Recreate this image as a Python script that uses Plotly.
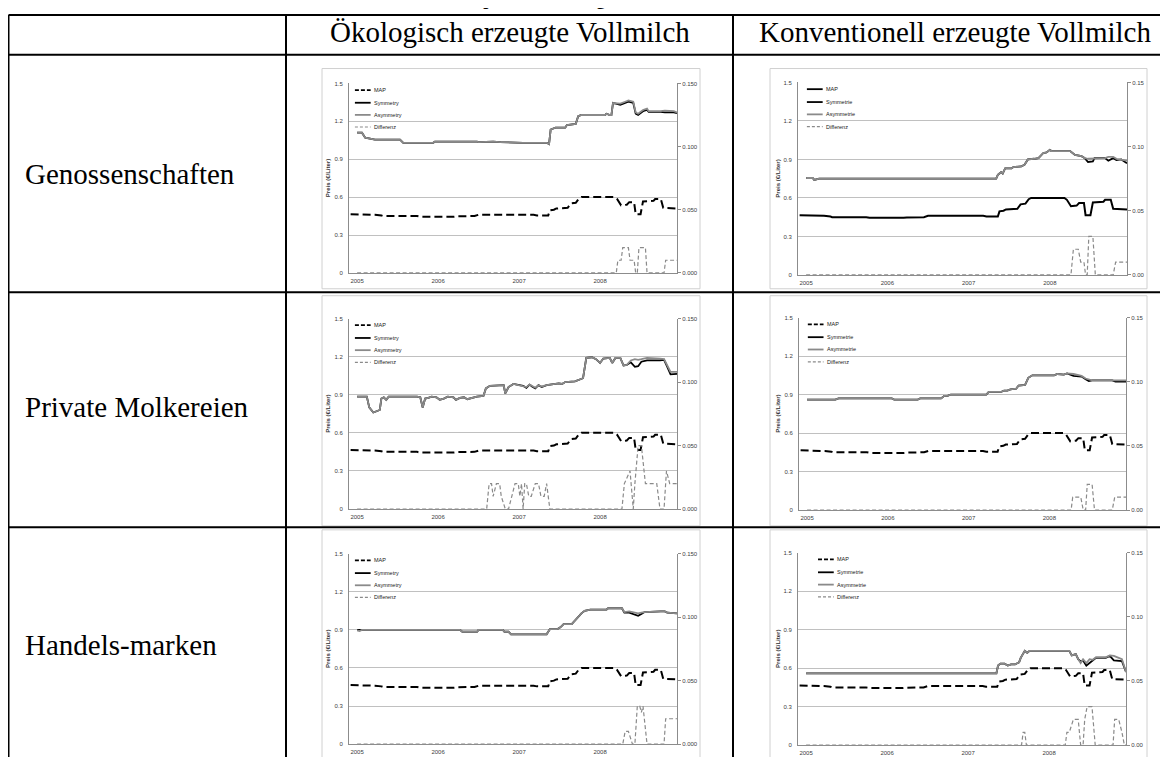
import plotly.graph_objects as go

W, H = 1168, 757
OFF = 8  # the page body margin shifts the figure by 8 px

# ---------------- text / tick data ----------------
TITLE = "Tabelle 5: Impulsantwortfolgen"
ROW_LABELS = ["Genossenschaften", "Private Molkereien", "Handels-marken"]
COL_LABELS = ["Ökologisch erzeugte Vollmilch", "Konventionell erzeugte Vollmilch"]
LEGEND_OEKO = ["MAP", "Symmetry", "Asymmetry", "Differenz"]
LEGEND_KONV = ["MAP", "Symmetrie", "Asymmetrie", "Differenz"]
Y_TITLE = "Preis (€/Liter)"

YEAR_TICKS = [2005, 2006, 2007, 2008]
YEAR_LABELS = ["2005", "2006", "2007", "2008"]
LEFT_TICKS = [0, 0.3, 0.6, 0.9, 1.2, 1.5]
LEFT_LABELS = ["0", "0.3", "0.6", "0.9", "1.2", "1.5"]
RIGHT_TICKS = [0, 0.05, 0.10, 0.15]
RIGHT_LABELS_OEKO = ["0.000", "0.050", "0.100", "0.150"]
RIGHT_LABELS_KONV = ["0.00", "0.05", "0.10", "0.15"]

# ---------------- MAP (same in all panels) ----------------
MAP_T = [2004.92, 2005.18, 2005.22, 2005.30, 2005.32, 2005.74, 2005.78, 2006.20, 2006.24, 2006.45,
         2006.50, 2007.18, 2007.22, 2007.36, 2007.38, 2007.43, 2007.46, 2007.60, 2007.64, 2007.70,
         2007.74, 2007.77, 2008.18, 2008.21, 2008.26, 2008.33, 2008.36, 2008.42, 2008.44, 2008.50,
         2008.53, 2008.66, 2008.68, 2008.75, 2008.78, 2008.95]
MAP_V = [0.465, 0.465, 0.46, 0.455, 0.45, 0.45, 0.445, 0.445, 0.448, 0.45,
         0.46, 0.46, 0.455, 0.455, 0.495, 0.50, 0.51, 0.515, 0.55, 0.555,
         0.59, 0.60, 0.60, 0.585, 0.535, 0.54, 0.56, 0.56, 0.465, 0.465,
         0.565, 0.57, 0.585, 0.585, 0.515, 0.51]

# ---------------- Genossenschaften / ökologisch ----------------
T11 = [2005.00, 2005.06, 2005.10, 2005.16, 2005.22, 2005.53, 2005.57, 2005.94, 2005.96, 2006.48,
       2006.50, 2006.68, 2006.77, 2007.05, 2007.34, 2007.37, 2007.39, 2007.45, 2007.57, 2007.59,
       2007.70, 2007.73, 2007.77, 2008.06, 2008.08, 2008.12, 2008.14, 2008.16, 2008.25, 2008.31,
       2008.35, 2008.41, 2008.44, 2008.47, 2008.53, 2008.58, 2008.60, 2008.75, 2008.80, 2008.91,
       2008.95]
ASYM11 = [1.11, 1.11, 1.07, 1.06, 1.055, 1.055, 1.03, 1.03, 1.04, 1.04,
          1.035, 1.04, 1.035, 1.03, 1.03, 1.02, 1.135, 1.15, 1.15, 1.17,
          1.18, 1.24, 1.25, 1.25, 1.26, 1.25, 1.25, 1.345, 1.34, 1.355,
          1.365, 1.355, 1.27, 1.26, 1.29, 1.30, 1.28, 1.28, 1.285, 1.28,
          1.27]
SYM11 = [1.11, 1.11, 1.07, 1.06, 1.055, 1.055, 1.03, 1.03, 1.04, 1.04,
         1.035, 1.04, 1.035, 1.03, 1.03, 1.02, 1.135, 1.15, 1.15, 1.17,
         1.18, 1.24, 1.25, 1.25, 1.26, 1.25, 1.25, 1.345, 1.33, 1.345,
         1.355, 1.345, 1.26, 1.25, 1.28, 1.29, 1.275, 1.275, 1.27, 1.27,
         1.265]
DT11 = [2005.00, 2008.20, 2008.22, 2008.26, 2008.28, 2008.35, 2008.37, 2008.42, 2008.44, 2008.46,
        2008.48, 2008.56, 2008.58, 2008.79, 2008.81, 2008.95]
DIFF11 = [0, 0, 0.01, 0.01, 0.02, 0.02, 0.01, 0.01, 0, 0,
          0.02, 0.02, 0, 0, 0.01, 0.01]

# ---------------- Genossenschaften / konventionell ----------------
T12 = [2005.00, 2005.08, 2005.10, 2005.14, 2005.16, 2007.34, 2007.36, 2007.40, 2007.42, 2007.45,
       2007.53, 2007.55, 2007.65, 2007.69, 2007.73, 2007.81, 2007.86, 2007.92, 2007.96, 2008.00,
       2008.02, 2008.25, 2008.27, 2008.31, 2008.39, 2008.43, 2008.47, 2008.53, 2008.55, 2008.68,
       2008.72, 2008.78, 2008.82, 2008.88, 2008.95]
ASYM12 = [0.755, 0.755, 0.74, 0.745, 0.75, 0.75, 0.78, 0.80, 0.79, 0.83,
          0.83, 0.84, 0.845, 0.86, 0.90, 0.905, 0.91, 0.95, 0.955, 0.975,
          0.965, 0.965, 0.955, 0.935, 0.925, 0.91, 0.905, 0.905, 0.91, 0.91,
          0.92, 0.92, 0.905, 0.90, 0.89]
SYM12 = [0.755, 0.755, 0.74, 0.745, 0.75, 0.75, 0.78, 0.80, 0.79, 0.83,
         0.83, 0.84, 0.845, 0.86, 0.90, 0.905, 0.91, 0.95, 0.955, 0.975,
         0.965, 0.965, 0.955, 0.935, 0.925, 0.91, 0.88, 0.885, 0.91, 0.91,
         0.89, 0.91, 0.895, 0.90, 0.87]
DT12 = [2005.00, 2008.26, 2008.29, 2008.35, 2008.38, 2008.42, 2008.44, 2008.46, 2008.48, 2008.53,
        2008.56, 2008.78, 2008.81, 2008.95]
DIFF12 = [0, 0, 0.02, 0.02, 0.01, 0.01, 0, 0, 0.03, 0.03,
          0, 0, 0.01, 0.01]

# ---------------- Private Molkereien / ökologisch ----------------
T21 = [2005.00, 2005.12, 2005.15, 2005.20, 2005.24, 2005.28, 2005.30, 2005.33, 2005.36, 2005.39,
       2005.74, 2005.78, 2005.81, 2005.84, 2005.88, 2005.92, 2005.98, 2006.02, 2006.07, 2006.12,
       2006.19, 2006.22, 2006.27, 2006.32, 2006.36, 2006.42, 2006.48, 2006.56, 2006.59, 2006.64,
       2006.81, 2006.83, 2006.87, 2006.93, 2006.99, 2007.05, 2007.09, 2007.13, 2007.16, 2007.20,
       2007.24, 2007.28, 2007.34, 2007.40, 2007.49, 2007.53, 2007.57, 2007.69, 2007.76, 2007.79,
       2007.83, 2007.90, 2007.95, 2008.00, 2008.04, 2008.12, 2008.15, 2008.19, 2008.25, 2008.29,
       2008.33, 2008.38, 2008.43, 2008.47, 2008.51, 2008.58, 2008.74, 2008.79, 2008.83, 2008.87,
       2008.95]
ASYM21 = [0.885, 0.885, 0.80, 0.76, 0.77, 0.78, 0.87, 0.88, 0.86, 0.885,
          0.885, 0.88, 0.80, 0.87, 0.875, 0.885, 0.88, 0.86, 0.87, 0.885,
          0.88, 0.86, 0.875, 0.88, 0.865, 0.875, 0.885, 0.89, 0.95, 0.97,
          0.975, 0.91, 0.96, 0.985, 0.975, 0.97, 0.96, 0.98, 0.97, 0.955,
          0.975, 0.965, 0.975, 0.98, 0.99, 0.985, 1.00, 1.005, 1.025, 1.03,
          1.19, 1.195, 1.18, 1.15, 1.185, 1.19, 1.15, 1.19, 1.19, 1.13,
          1.135, 1.17, 1.18, 1.175, 1.18, 1.19, 1.185, 1.18, 1.13, 1.08,
          1.08]
SYM21 = [0.885, 0.885, 0.80, 0.76, 0.77, 0.78, 0.87, 0.88, 0.86, 0.885,
         0.885, 0.88, 0.80, 0.87, 0.875, 0.885, 0.88, 0.86, 0.87, 0.885,
         0.88, 0.86, 0.875, 0.88, 0.865, 0.875, 0.885, 0.89, 0.95, 0.97,
         0.975, 0.91, 0.96, 0.985, 0.975, 0.97, 0.955, 0.98, 0.965, 0.95,
         0.975, 0.96, 0.975, 0.98, 0.99, 0.985, 1.00, 1.005, 1.025, 1.03,
         1.19, 1.195, 1.18, 1.15, 1.185, 1.19, 1.15, 1.19, 1.19, 1.13,
         1.135, 1.155, 1.12, 1.125, 1.16, 1.17, 1.17, 1.175, 1.12, 1.06,
         1.065]
DT21 = [2005.00, 2006.60, 2006.63, 2006.66, 2006.68, 2006.72, 2006.76, 2006.78, 2006.83, 2006.87,
        2006.91, 2006.95, 2006.99, 2007.01, 2007.03, 2007.05, 2007.07, 2007.09, 2007.12, 2007.15,
        2007.20, 2007.24, 2007.27, 2007.31, 2007.34, 2007.38, 2008.27, 2008.30, 2008.37, 2008.41,
        2008.43, 2008.47, 2008.51, 2008.56, 2008.70, 2008.74, 2008.79, 2008.82, 2008.86, 2008.95]
DIFF21 = [0, 0, 0.02, 0.02, 0.01, 0.02, 0.02, 0.01, 0, 0,
          0.01, 0.02, 0.02, 0.01, 0.02, 0, 0.02, 0.02, 0.01, 0.01,
          0.02, 0.02, 0.01, 0.01, 0.02, 0, 0, 0.02, 0.03, 0,
          0.02, 0.05, 0.05, 0.02, 0.02, 0, 0, 0.03, 0.02, 0.02]

# ---------------- Private Molkereien / konventionell ----------------
T22 = [2005.00, 2005.35, 2005.39, 2006.05, 2006.08, 2006.37, 2006.40, 2006.66, 2006.70, 2006.74,
       2006.78, 2007.22, 2007.25, 2007.40, 2007.44, 2007.48, 2007.52, 2007.59, 2007.62, 2007.70,
       2007.74, 2007.79, 2008.06, 2008.10, 2008.18, 2008.22, 2008.30, 2008.35, 2008.40, 2008.45,
       2008.49, 2008.53, 2008.78, 2008.82, 2008.95]
ASYM22 = [0.86, 0.86, 0.87, 0.87, 0.86, 0.86, 0.87, 0.87, 0.89, 0.89,
          0.90, 0.90, 0.92, 0.92, 0.93, 0.93, 0.94, 0.945, 0.97, 0.975,
          1.03, 1.05, 1.05, 1.06, 1.055, 1.065, 1.06, 1.05, 1.045, 1.025,
          1.02, 1.01, 1.01, 1.01, 1.01]
SYM22 = [0.86, 0.86, 0.87, 0.87, 0.86, 0.86, 0.87, 0.87, 0.89, 0.89,
         0.90, 0.90, 0.92, 0.92, 0.93, 0.93, 0.94, 0.945, 0.97, 0.975,
         1.03, 1.05, 1.05, 1.06, 1.055, 1.065, 1.045, 1.04, 1.04, 1.02,
         1.005, 1.01, 1.01, 1.0, 1.0]
DT22 = [2005.00, 2008.27, 2008.29, 2008.39, 2008.42, 2008.45, 2008.47, 2008.53, 2008.56, 2008.78,
        2008.81, 2008.95]
DIFF22 = [0, 0, 0.01, 0.01, 0, 0, 0.02, 0.02, 0, 0,
          0.01, 0.01]

# ---------------- Handelsmarken / ökologisch ----------------
T31 = [2005.00, 2005.03, 2005.06, 2006.27, 2006.30, 2006.48, 2006.50, 2006.80, 2006.82, 2006.87,
       2006.90, 2007.34, 2007.38, 2007.47, 2007.51, 2007.55, 2007.65, 2007.72, 2007.77, 2007.81,
       2007.88, 2008.08, 2008.10, 2008.27, 2008.30, 2008.36, 2008.42, 2008.47, 2008.51, 2008.55,
       2008.75, 2008.80, 2008.83, 2008.95]
ASYM31 = [0.895, 0.89, 0.90, 0.90, 0.885, 0.885, 0.90, 0.90, 0.885, 0.885,
          0.865, 0.865, 0.905, 0.905, 0.92, 0.945, 0.945, 1.00, 1.03, 1.05,
          1.06, 1.06, 1.07, 1.07, 1.04, 1.045, 1.035, 1.03, 1.035, 1.04,
          1.045, 1.045, 1.035, 1.03]
SYM31 = [0.90, 0.90, 0.90, 0.90, 0.885, 0.885, 0.90, 0.90, 0.885, 0.885,
         0.865, 0.865, 0.905, 0.905, 0.92, 0.945, 0.945, 1.00, 1.03, 1.05,
         1.06, 1.06, 1.07, 1.07, 1.035, 1.035, 1.02, 1.01, 1.025, 1.04,
         1.045, 1.045, 1.035, 1.03]
DT31 = [2005.00, 2008.28, 2008.31, 2008.35, 2008.40, 2008.43, 2008.46, 2008.49, 2008.51, 2008.53,
        2008.58, 2008.79, 2008.81, 2008.95]
DIFF31 = [0, 0, 0.01, 0.01, 0, 0, 0.03, 0.03, 0.025, 0.03,
          0, 0, 0.02, 0.02]

# ---------------- Handelsmarken / konventionell ----------------
T32 = [2005.00, 2007.35, 2007.37, 2007.40, 2007.45, 2007.49, 2007.53, 2007.58, 2007.63, 2007.65,
       2007.70, 2007.73, 2007.76, 2008.25, 2008.28, 2008.33, 2008.36, 2008.39, 2008.42, 2008.46,
       2008.50, 2008.54, 2008.58, 2008.70, 2008.75, 2008.80, 2008.86, 2008.90, 2008.95]
ASYM32 = [0.56, 0.56, 0.62, 0.635, 0.635, 0.62, 0.63, 0.63, 0.645, 0.68,
          0.735, 0.72, 0.735, 0.735, 0.70, 0.71, 0.67, 0.64, 0.67, 0.64,
          0.67, 0.665, 0.685, 0.685, 0.70, 0.695, 0.68, 0.67, 0.57]
SYM32 = [0.56, 0.56, 0.62, 0.635, 0.635, 0.62, 0.63, 0.63, 0.645, 0.68,
         0.735, 0.72, 0.735, 0.735, 0.70, 0.71, 0.67, 0.65, 0.66, 0.62,
         0.64, 0.66, 0.68, 0.68, 0.695, 0.66, 0.66, 0.655, 0.57]
DT32 = [2005.00, 2007.66, 2007.68, 2007.70, 2007.72, 2008.20, 2008.22, 2008.25, 2008.30, 2008.36,
        2008.39, 2008.42, 2008.44, 2008.47, 2008.53, 2008.57, 2008.79, 2008.81, 2008.86, 2008.90,
        2008.93, 2008.95]
DIFF32 = [0, 0, 0.01, 0.01, 0, 0, 0.01, 0.01, 0.02, 0.02,
          0, 0, 0.02, 0.03, 0.03, 0, 0, 0.02, 0.02, 0.01,
          0, 0]


# ---------------- layout helpers (page pixels -> paper fractions) ----------------
def fx(px):
    return (px - OFF) / W


def fy(py):
    return 1 - (py - OFF) / H


PANELS = [
    dict(t=T11, sym=SYM11, asym=ASYM11, dt=DT11, diff=DIFF11,
         box=(349, 81, 677, 272), frame=(322, 66, 700, 288), lx=0.018, col=0, map_solid=False),
    dict(t=T12, sym=SYM12, asym=ASYM12, dt=DT12, diff=DIFF12,
         box=(798, 80, 1127, 274), frame=(770, 66, 1147, 288), lx=0.027, col=1, map_solid=True),
    dict(t=T21, sym=SYM21, asym=ASYM21, dt=DT21, diff=DIFF21,
         box=(349, 318, 677, 510), frame=(322, 295, 700, 527), lx=0.018, col=0, map_solid=False),
    dict(t=T22, sym=SYM22, asym=ASYM22, dt=DT22, diff=DIFF22,
         box=(799, 317, 1126, 511), frame=(770, 295, 1147, 527), lx=0.027, col=1, map_solid=False),
    dict(t=T31, sym=SYM31, asym=ASYM31, dt=DT31, diff=DIFF31,
         box=(349, 555, 677, 747), frame=(322, 531, 700, 775), lx=0.018, col=0, map_solid=False),
    dict(t=T32, sym=SYM32, asym=ASYM32, dt=DT32, diff=DIFF32,
         box=(798, 554, 1126, 748), frame=(770, 531, 1147, 775), lx=0.061, col=1, map_solid=False),
]

BLACK = "#000000"
GRAY = "#8a8a8a"
AXC = "#8c8c8c"
GRID = "#c0c0c0"
TICKFONT = dict(family="Liberation Sans", size=6, color="#404040")

MAP_DASH = dict(color=BLACK, width=2, dash="8px,4px")
MAP_SOLID = dict(color=BLACK, width=2)
SYM_LINE = dict(color=BLACK, width=1.8)
ASYM_LINE = dict(color=GRAY, width=1.8)
DIFF_LINE = dict(color=GRAY, width=1.2, dash="4px,2.5px")


def nm(n):
    return "" if n == 1 else str(n)


fig = go.Figure()
layout = dict(
    width=W, height=H, margin=dict(l=0, r=0, t=0, b=0),
    paper_bgcolor="white", plot_bgcolor="white", showlegend=False,
)
shapes = []
annotations = []

for k, p in enumerate(PANELS, start=1):
    xa = "x" + nm(k)
    ya = "y" + nm(2 * k - 1)
    ya2 = "y" + nm(2 * k)
    x0, y0, x1, y1 = p["box"]
    map_line = MAP_SOLID if p["map_solid"] else MAP_DASH

    fig.add_trace(go.Scatter(x=MAP_T, y=MAP_V, mode="lines", line=map_line, xaxis=xa, yaxis=ya))
    fig.add_trace(go.Scatter(x=p["t"], y=p["sym"], mode="lines", line=SYM_LINE, xaxis=xa, yaxis=ya))
    fig.add_trace(go.Scatter(x=p["t"], y=p["asym"], mode="lines", line=ASYM_LINE, xaxis=xa, yaxis=ya))
    fig.add_trace(go.Scatter(x=p["dt"], y=p["diff"], mode="lines", line=DIFF_LINE, xaxis=xa, yaxis=ya2))

    layout["xaxis" + nm(k)] = dict(
        domain=[fx(x0), fx(x1)], anchor=ya, range=[2004.9, 2008.95],
        tickvals=YEAR_TICKS, ticktext=YEAR_LABELS, showgrid=False, zeroline=False,
        showline=True, linecolor=AXC, linewidth=1, ticks="", tickfont=TICKFONT, ticklabelstandoff=2,
    )
    layout["yaxis" + nm(2 * k - 1)] = dict(
        domain=[fy(y1), fy(y0)], anchor=xa, range=[0, 1.5],
        tickvals=LEFT_TICKS, ticktext=LEFT_LABELS, showgrid=True, gridcolor=GRID, gridwidth=1,
        zeroline=False, showline=True, linecolor=AXC, linewidth=1, ticks="", tickfont=TICKFONT,
        ticklabelstandoff=4,
    )
    layout["yaxis" + nm(2 * k)] = dict(
        overlaying=ya, anchor=xa, side="right", range=[0, 0.15],
        tickvals=RIGHT_TICKS,
        ticktext=RIGHT_LABELS_OEKO if p["col"] == 0 else RIGHT_LABELS_KONV,
        showgrid=False, zeroline=False, showline=True, linecolor=AXC, linewidth=1,
        ticks="outside", ticklen=3, tickcolor=AXC, tickfont=TICKFONT,
    )

    # chart frame
    fx0, fy0, fx1, fy1 = p["frame"]
    shapes.append(dict(type="rect", xref="paper", yref="paper", x0=fx(fx0), x1=fx(fx1),
                       y0=fy(fy1), y1=fy(fy0), line=dict(color="#d0d0d0", width=1),
                       fillcolor="rgba(0,0,0,0)", layer="below"))

    # y-axis title
    title_x = (fx0 + 6) if p["col"] == 0 else (fx0 + 8)
    annotations.append(dict(text="<b>" + Y_TITLE + "</b>", xref="paper", yref="paper",
                            x=fx(title_x), y=fy((y0 + y1) / 2), textangle=-90, showarrow=False,
                            xanchor="center", yanchor="middle",
                            font=dict(family="Liberation Sans", size=6, color="#303030")))

    # legend (inside plot, top-left)
    names = LEGEND_OEKO if p["col"] == 0 else LEGEND_KONV
    styles = [map_line, SYM_LINE, ASYM_LINE, DIFF_LINE]
    ly = [0.965, 0.898, 0.834, 0.770]
    lx0 = p["lx"]
    lx1 = lx0 + 0.048
    for name, st, yy in zip(names, styles, ly):
        line = dict(color=st["color"], width=min(st["width"], 1.8))
        if "dash" in st:
            line["dash"] = "4px,2px" if st is MAP_DASH else "3px,2px"
        shapes.append(dict(type="line", xref=xa + " domain", yref=ya + " domain",
                           x0=lx0, x1=lx1, y0=yy, y1=yy, line=line))
        annotations.append(dict(text=name, xref=xa + " domain", yref=ya + " domain",
                                x=lx1 + 0.004, y=yy, xanchor="left", yanchor="middle",
                                showarrow=False,
                                font=dict(family="Liberation Sans", size=5.5, color="#202020")))

# ---------------- table grid ----------------
TL = dict(color="black", width=2)
for yy in [12, 52, 291.5, 528.5]:
    shapes.append(dict(type="line", xref="paper", yref="paper", x0=fx(8.5), x1=1.0,
                       y0=fy(yy), y1=fy(yy), line=TL))
for xx in [8.5, 286, 733]:
    shapes.append(dict(type="line", xref="paper", yref="paper", x0=fx(xx), x1=fx(xx),
                       y0=fy(12), y1=0, line=TL))

SERIF = "Liberation Serif"
annotations.append(dict(text=COL_LABELS[0], xref="paper", yref="paper", x=fx(510), y=fy(29),
                        xanchor="center", yanchor="middle", showarrow=False,
                        font=dict(family=SERIF, size=29, color="black")))
annotations.append(dict(text=COL_LABELS[1], xref="paper", yref="paper", x=fx(955), y=fy(29),
                        xanchor="center", yanchor="middle", showarrow=False,
                        font=dict(family=SERIF, size=29, color="black")))
for label, cy in zip(ROW_LABELS, [172, 407, 647]):
    annotations.append(dict(text=label, xref="paper", yref="paper", x=fx(23), y=fy(cy),
                            xanchor="left", yanchor="middle", showarrow=False,
                            font=dict(family=SERIF, size=29, color="black")))

# partially visible bold title above the table
annotations.append(dict(text="<b>" + TITLE + "</b>", xref="paper", yref="paper", x=fx(380),
                        y=fy(-4), xanchor="left", yanchor="middle", showarrow=False,
                        font=dict(family=SERIF, size=18, color="black")))

layout["shapes"] = shapes
layout["annotations"] = annotations
fig.update_layout(**layout)

fig.write_html("out.html")
